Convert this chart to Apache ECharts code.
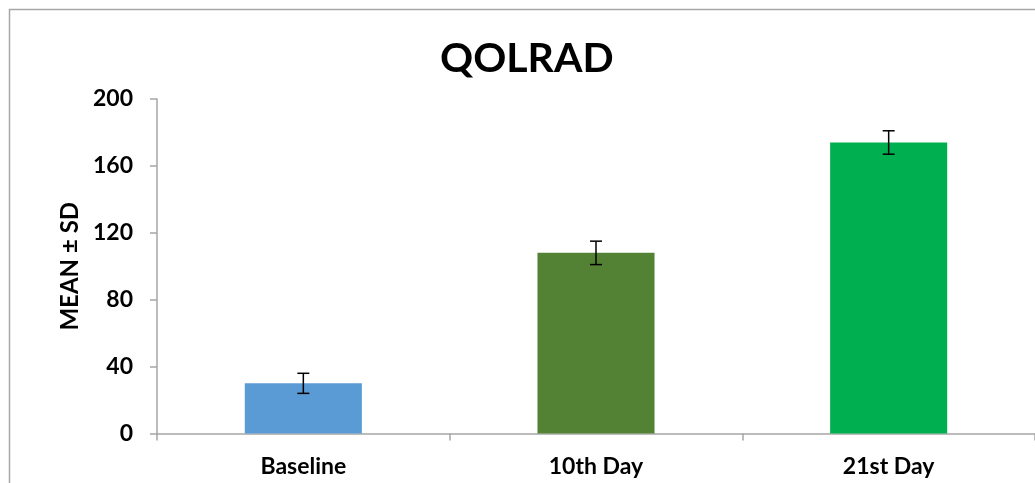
<!DOCTYPE html>
<html><head><meta charset="utf-8">
<script src="https://cdn.jsdelivr.net/npm/echarts@6/dist/echarts.min.js"></script>
<style>html,body{margin:0;padding:0;background:#fff}#c{width:1035px;height:483px}</style>
</head><body><div id="c"></div>
<script>
const categories = ['Baseline', '10th Day', '21st Day'];
const means = [30, 108, 174];
const sds = [6, 7, 7];
const colors = ['#5B9BD5', '#548235', '#00B050'];
const yTicks = [0, 40, 80, 120, 160, 200];

const font = 'Lato, "Open Sans", sans-serif';
const chart = echarts.init(document.getElementById('c'));
chart.setOption({
  animation: false,
  backgroundColor: '#fff',
  graphic: [{type: 'rect', left: 7, top: 7, shape: {width: 1100, height: 600}, style: {fill: 'none', stroke: '#a6a6a6', lineWidth: 1.5}, z: -1}],
  title: {text: 'QOLRAD', left: 435, top: 33, textStyle: {fontFamily: font, fontWeight: 'bold', fontSize: 41, color: '#000'}},
  grid: {left: 157, top: 99, bottom: 49.5, right: -10},
  xAxis: {
    type: 'category', data: categories,
    axisLine: {lineStyle: {color: '#a6a6a6', width: 1.5}},
    axisTick: {show: true, length: 7, lineStyle: {color: '#a6a6a6', width: 1.5}},
    axisLabel: {fontFamily: font, fontWeight: 'bold', fontSize: 23, color: '#000', margin: 22}
  },
  yAxis: {
    type: 'value', min: yTicks[0], max: yTicks[yTicks.length - 1], interval: 40,
    name: 'MEAN ± SD', nameLocation: 'middle', nameGap: 66, nameRotate: 90,
    nameTextStyle: {fontFamily: font, fontWeight: 'bold', fontSize: 24, color: '#000'},
    axisLine: {show: true, lineStyle: {color: '#a6a6a6', width: 1.5}},
    axisTick: {show: true, length: 7, lineStyle: {color: '#a6a6a6', width: 1.5}},
    splitLine: {show: false},
    axisLabel: {fontFamily: font, fontWeight: 'bold', fontSize: 23, color: '#000', margin: 24}
  },
  series: [{
    type: 'bar', barWidth: '40%',
    data: means.map((v, i) => ({value: v, itemStyle: {color: colors[i]}}))
  }, {
    type: 'custom',
    data: means.map((v, i) => [i, v - sds[i], v + sds[i]]),
    renderItem: function (params, api) {
      const lo = api.coord([api.value(0), api.value(1)]);
      const hi = api.coord([api.value(0), api.value(2)]);
      const w = 6;
      const st = {stroke: '#000', lineWidth: 1.5};
      return {type: 'group', children: [
        {type: 'line', shape: {x1: hi[0], y1: hi[1], x2: lo[0], y2: lo[1]}, style: st},
        {type: 'line', shape: {x1: hi[0] - w, y1: hi[1], x2: hi[0] + w, y2: hi[1]}, style: st},
        {type: 'line', shape: {x1: lo[0] - w, y1: lo[1], x2: lo[0] + w, y2: lo[1]}, style: st}
      ]};
    },
    z: 10
  }]
});
</script></body></html>
